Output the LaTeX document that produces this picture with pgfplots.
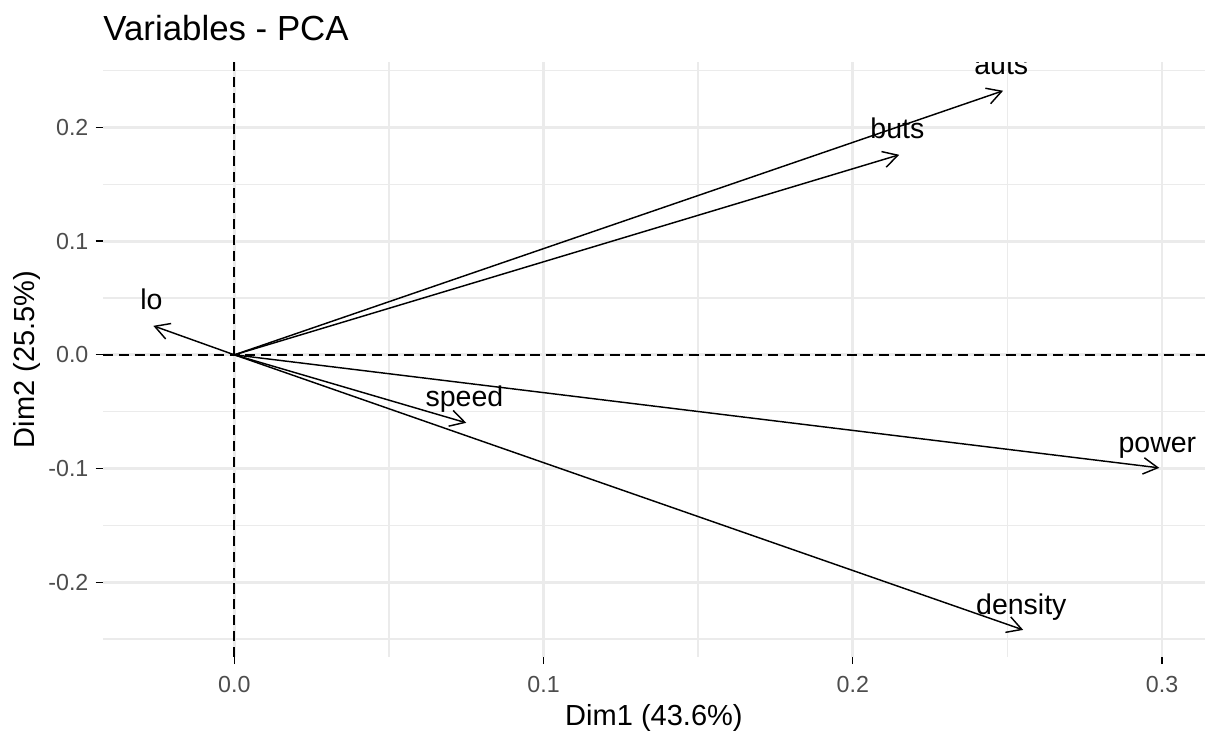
\documentclass[border=0pt]{standalone}
\usepackage{fontspec}
\setmainfont{Liberation Sans}
\usepackage{pgfplots}
\pgfplotsset{compat=1.18}
\usetikzlibrary{arrows.meta}
\definecolor{gridc}{HTML}{EBEBEB}
\definecolor{tickc}{HTML}{4D4D4D}
\begin{document}
\begin{tikzpicture}
\useasboundingbox (-39.0pt,-28.8pt) rectangle (417.6pt,248.9pt);
\begin{axis}[
  at={(0,0)}, anchor=south west,
  width=417.6pt, height=225.4pt, scale only axis,
  xmin=-0.0425, xmax=0.3139, ymin=-0.2656, ymax=0.2575,
  clip marker paths=true,
  xtick={0,0.1,0.2,0.3}, xticklabels={0.0,0.1,0.2,0.3},
  ytick={-0.2,-0.1,0,0.1,0.2}, yticklabels={-0.2,-0.1,0.0,0.1,0.2},
  minor xtick={-0.05,0.05,0.15,0.25},
  minor ytick={-0.25,-0.15,-0.05,0.05,0.15,0.25},
  grid=both,
  major grid style={gridc, line width=1.07pt},
  minor grid style={gridc, line width=0.53pt},
  axis line style={draw=none},
  tick pos=left,
  tick align=outside,
  major tick length=2.75pt,
  minor tick length=0pt,
  tick style={black, line width=0.5pt},
  ticklabel style={font=\fontsize{8.8}{10}\selectfont, color=tickc, inner sep=0pt},
  xticklabel style={anchor=base, yshift=-10.85pt},
  yticklabel style={anchor=east, xshift=-2.55pt},
  xlabel={Dim1 (43.6\%)},
  xlabel style={at={(axis description cs:0.5,-0.1158)}, anchor=base, inner sep=0pt, font=\fontsize{11}{13}\selectfont},
  ylabel={Dim2 (25.5\%)},
  ylabel style={at={(axis description cs:-0.0625,0.5)}, anchor=base, inner sep=0pt, font=\fontsize{11}{13}\selectfont},
  title={Variables - PCA},
  title style={at={(axis description cs:0,1.0355)}, anchor=base west, yshift=-6pt, inner sep=0pt, font=\fontsize{13.2}{16}\selectfont},
]
\addplot[black, line width=0.7pt, dash pattern=on 3.8pt off 2.2pt] coordinates {(-0.0425,0) (0.3139,0)};
\addplot[black, line width=0.7pt, dash pattern=on 3.8pt off 2.2pt] coordinates {(0,-0.2656) (0,0.2575)};
\pgfplotsset{arr/.style={black, line width=0.55pt, -{Straight Barb[length=5.5pt,width=6.2pt]}}}
\addplot[arr] coordinates {(0,0) (0.2486,0.2322)};
\addplot[arr] coordinates {(0,0) (0.2150,0.1759)};
\addplot[arr] coordinates {(0,0) (-0.0262,0.0255)};
\addplot[arr] coordinates {(0,0) (0.0750,-0.0598)};
\addplot[arr] coordinates {(0,0) (0.2991,-0.0994)};
\addplot[arr] coordinates {(0,0) (0.2551,-0.2419)};
\addplot[only marks, mark=none, nodes near coords, point meta=explicit symbolic,
  nodes near coords style={anchor=base, yshift=6pt, xshift=-0.7pt, inner sep=0pt, black, font=\fontsize{10.8}{13}\selectfont}]
  table[meta=label] {
x y label
0.2486 0.2322 auts
0.2150 0.1759 buts
-0.0262 0.0255 lo
0.0750 -0.0598 speed
0.2991 -0.0994 power
0.2551 -0.2419 density
};
\end{axis}
\end{tikzpicture}
\end{document}
